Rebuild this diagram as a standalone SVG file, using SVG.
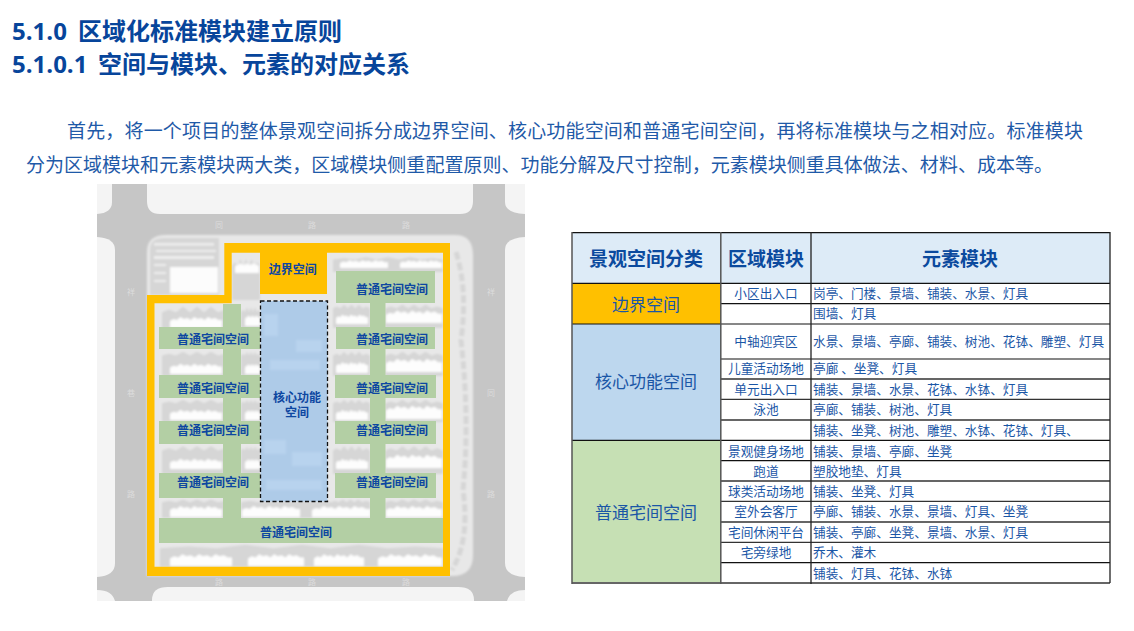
<svg xmlns="http://www.w3.org/2000/svg" xmlns:xlink="http://www.w3.org/1999/xlink" width="1134" height="631" viewBox="0 0 1134 631">
<style>
text{font-family:"Noto Sans CJK SC","Noto Sans",sans-serif;fill:#0b4a9e}
.h1{font-family:"Open Sans","Noto Sans CJK SC",sans-serif;font-size:24px;font-weight:700;fill:#07459b}
.p{font-size:19px;fill:#1f5aa8}
.m{font-size:12px;font-weight:700;text-anchor:middle;fill:#0d47a1}
.th{font-size:19px;font-weight:700;text-anchor:middle}
.cat{font-size:17px;text-anchor:middle;fill:#1a56a6}
.c2{font-size:12.67px;text-anchor:middle;fill:#1a56a6}
.c3{font-size:12.67px;fill:#1a56a6}
.rd{font-size:8px;text-anchor:middle;fill:#dcdcdc}
.bg{fill:#d6d6d6}.wh{fill:#fdfdfd}
.gr{fill:#b3cfa4}
.hl{stroke:#111;stroke-width:1.2;fill:none}
</style>
<defs>
<filter id="b" x="-5%" y="-5%" width="110%" height="110%"><feGaussianBlur stdDeviation="0.8"/></filter>
<filter id="s" x="-5%" y="-5%" width="110%" height="110%"><feGaussianBlur stdDeviation="0.4"/></filter>
<symbol id="w" viewBox="0 0 60 14" preserveAspectRatio="none"><path d="M0 14V7L4 5L8 6L12 3L16 5L20 4L24 6L28 3L32 5L36 4L40 6L44 3L48 5L52 4L56 6L60 6V14Z"/></symbol>
<symbol id="r" viewBox="0 0 60 14" preserveAspectRatio="none"><path d="M0 14V3L6 2L12 3L18 1L24 3L30 1L36 3L42 1L48 3L54 2L60 3V14Z"/></symbol>
</defs>
<rect width="1134" height="631" fill="#fff"/>
<g id="title">
<text class="h1" x="12" y="40">5.1.0<tspan x="78">区域化标准模块建立原则</tspan></text>
<text class="h1" x="12" y="73">5.1.0.1<tspan x="98">空间与模块、元素的对应关系</tspan></text>
</g>
<g id="intro">
<text class="p" x="67" y="138" textLength="1016">首先，将一个项目的整体景观空间拆分成边界空间、核心功能空间和普通宅间空间，再将标准模块与之相对应。标准模块</text>
<text class="p" x="26" y="172" textLength="1027">分为区域模块和元素模块两大类，区域模块侧重配置原则、功能分解及尺寸控制，元素模块侧重具体做法、材料、成本等。</text>
</g>
<g id="site-plan">
<rect x="97" y="184" width="428" height="417" fill="#c6c6c6"/>
<g fill="#f4f4f4">
<path d="M147 184H473V201Q473 214 460 214H160Q147 214 147 201Z"/>
<path d="M97 184H112V202Q112 213 97 214Z"/>
<path d="M505 184H525V214Q505 213 505 202Z"/>
<path d="M97 237Q115 238 115 250V563Q115 576 97 577Z"/>
<path d="M525 237Q505 238 505 250V563Q505 576 525 577Z"/>
<path d="M152 601V600Q152 587 168 587H458Q474 587 474 600V601Z"/>
<path d="M97 590Q112 590 115 601H97Z"/>
<path d="M525 590Q510 590 507 601H525Z"/>
</g>
<g id="site-ground" filter="url(#b)">
<path d="M147 252Q147 235 166 235H455Q473 235 473 255V555Q473 576 452 576H147Z" fill="#e8e8e8"/>
<path d="M456 252Q468 290 461 340Q470 420 463 490Q470 540 452 570" fill="none" stroke="#d6d6d6" stroke-width="5" stroke-dasharray="8 3"/>
<path d="M150 250Q150 238 164 238H219V295H150Z" fill="#d6d6d6"/>
<g fill="#eeeeee"><rect x="154" y="243" width="60" height="2.500"/><rect x="156" y="250" width="60" height="2"/><rect x="154" y="256" width="60" height="3"/><rect x="154" y="264" width="12" height="2"/><rect x="154" y="272" width="12" height="2"/><rect x="154" y="280" width="12" height="2"/></g>
<rect x="170" y="267" width="48" height="26" fill="#fcfcfc"/>
<g class="bg">
<use xlink:href="#r" x="162" y="304" width="70" height="38"/><use xlink:href="#r" x="241" y="304" width="20" height="38"/>
<use xlink:href="#r" x="162" y="350" width="70" height="26"/><use xlink:href="#r" x="241" y="350" width="20" height="26"/>
<use xlink:href="#r" x="162" y="398" width="70" height="24"/><use xlink:href="#r" x="241" y="398" width="20" height="24"/>
<use xlink:href="#r" x="162" y="444" width="70" height="30"/><use xlink:href="#r" x="241" y="444" width="20" height="30"/>
<use xlink:href="#r" x="162" y="498" width="70" height="20"/><use xlink:href="#r" x="241" y="498" width="90" height="20"/>
<use xlink:href="#r" x="333" y="256" width="110" height="16"/><use xlink:href="#r" x="232" y="256" width="28" height="44"/>
<use xlink:href="#r" x="333" y="303" width="37" height="25"/><use xlink:href="#r" x="385" y="303" width="58" height="25"/>
<use xlink:href="#r" x="333" y="350" width="37" height="26"/><use xlink:href="#r" x="385" y="350" width="58" height="26"/>
<use xlink:href="#r" x="333" y="398" width="37" height="24"/><use xlink:href="#r" x="385" y="398" width="58" height="24"/>
<use xlink:href="#r" x="333" y="444" width="37" height="30"/><use xlink:href="#r" x="385" y="444" width="58" height="30"/>
<use xlink:href="#r" x="331" y="498" width="39" height="20"/><use xlink:href="#r" x="385" y="498" width="58" height="20"/>
<use xlink:href="#r" x="160" y="543" width="284" height="24"/>
</g>
<g class="wh">
<use xlink:href="#w" x="170" y="314" width="52" height="14"/><use xlink:href="#w" x="245" y="312" width="15" height="14"/>
<use xlink:href="#w" x="170" y="361" width="52" height="13"/><use xlink:href="#w" x="245" y="361" width="15" height="13"/>
<use xlink:href="#w" x="170" y="407" width="52" height="13"/><use xlink:href="#w" x="245" y="407" width="15" height="13"/>
<use xlink:href="#w" x="170" y="456" width="52" height="13"/><use xlink:href="#w" x="245" y="456" width="15" height="13"/>
<use xlink:href="#w" x="170" y="503" width="52" height="14"/><use xlink:href="#w" x="242" y="503" width="58" height="14"/><use xlink:href="#w" x="312" y="503" width="58" height="14"/><use xlink:href="#w" x="386" y="503" width="56" height="14"/>
<use xlink:href="#w" x="336" y="312" width="32" height="12"/><use xlink:href="#w" x="386" y="307" width="56" height="16"/>
<use xlink:href="#w" x="336" y="359" width="32" height="14"/><use xlink:href="#w" x="386" y="355" width="56" height="17"/>
<use xlink:href="#w" x="336" y="407" width="32" height="13"/><use xlink:href="#w" x="386" y="402" width="56" height="17"/>
<use xlink:href="#w" x="336" y="456" width="32" height="13"/><use xlink:href="#w" x="386" y="451" width="56" height="17"/>
<use xlink:href="#w" x="170" y="551" width="62" height="15"/><use xlink:href="#w" x="248" y="551" width="56" height="15"/><use xlink:href="#w" x="314" y="551" width="50" height="15"/><use xlink:href="#w" x="378" y="551" width="64" height="15"/>
<use xlink:href="#w" x="340" y="258" width="48" height="10"/><use xlink:href="#w" x="400" y="258" width="42" height="10"/><use xlink:href="#w" x="235" y="260" width="24" height="13"/>
</g>
</g>
<g id="green-zones" class="gr" filter="url(#s)">
<rect x="336" y="271" width="99" height="32"/>
<rect x="370" y="303" width="15.500" height="215"/>
<rect x="336" y="327" width="99" height="22"/>
<rect x="335" y="375" width="101" height="23"/>
<rect x="335" y="421" width="101" height="23"/>
<rect x="335" y="473" width="101" height="25"/>
<rect x="223" y="304" width="18" height="214"/>
<rect x="159" y="327" width="101" height="22"/>
<rect x="159" y="375" width="101" height="23"/>
<rect x="159" y="421" width="101" height="23"/>
<rect x="159" y="473" width="101" height="25"/>
<rect x="159" y="518" width="284" height="25"/>
</g>
<rect id="core-zone" x="260.500" y="301" width="67" height="200.500" fill="#aecbe8"/>
<g id="core-texture" fill="#b8d3ee" filter="url(#b)">
<rect x="264" y="314" width="14" height="22"/><rect x="296" y="340" width="26" height="12"/><rect x="270" y="360" width="50" height="10"/><rect x="264" y="440" width="22" height="14"/><rect x="292" y="452" width="30" height="14"/><rect x="266" y="480" width="56" height="10"/>
</g>
<rect x="260.500" y="301" width="67" height="200.500" fill="none" stroke="#111" stroke-width="1.300" stroke-dasharray="4 2.500"/>
<path id="boundary" fill="#ffc000" fill-rule="evenodd" d="M147 295H224.300V243H450V576H147ZM154.500 303.300V566.700H443V252.700H231.700V303.300Z"/>
<rect id="boundary-zone" x="260" y="243" width="67" height="51" fill="#ffc000"/>
<g id="road-labels">
<text class="rd" x="219" y="228">同</text><text class="rd" x="312" y="228">路</text><text class="rd" x="406" y="228">路</text>
<text class="rd" x="131" y="295">祥</text><text class="rd" x="131" y="396">巷</text><text class="rd" x="131" y="497">路</text>
<text class="rd" x="491" y="295">祥</text><text class="rd" x="491" y="396">同</text><text class="rd" x="491" y="497">路</text>
<text class="rd" x="219" y="585">路</text><text class="rd" x="312" y="585">路</text><text class="rd" x="406" y="585">路</text>
</g>
<g id="plan-labels">
<text class="m" x="292.700" y="273.500">边界空间</text>
<text class="m" x="297" y="401.500">核心功能</text>
<text class="m" x="297" y="416.500">空间</text>
<text class="m" x="392" y="293.500">普通宅间空间</text>
<text class="m" x="213" y="343.500">普通宅间空间</text><text class="m" x="392" y="343.500">普通宅间空间</text>
<text class="m" x="213" y="392.500">普通宅间空间</text><text class="m" x="392" y="392.500">普通宅间空间</text>
<text class="m" x="213" y="434.500">普通宅间空间</text><text class="m" x="392" y="434.500">普通宅间空间</text>
<text class="m" x="213" y="486.500">普通宅间空间</text><text class="m" x="392" y="486.500">普通宅间空间</text>
<text class="m" x="296" y="536.500">普通宅间空间</text>
</g>
</g>
<g id="table">
<rect x="572" y="233" width="538" height="50" fill="#ddebf7"/>
<rect x="572" y="283.500" width="149" height="40.500" fill="#ffc000"/>
<rect x="572" y="324" width="149" height="116" fill="#bdd7ee"/>
<rect x="572" y="440" width="149" height="143" fill="#c6e0b4"/>
<g id="table-lines">
<path class="hl" d="M572 232.700H1110M572 283.300H1110M721 303.700H1110M572 324H1110M721 359H1110M572 440.300H1110M721 460.700H1110M721 562.700H1110"/>
<path d="M721 379H1110M721 399.300H1110M721 481H1110M721 501.300H1110M721 542.300H1110" fill="none" stroke="#333" stroke-width="1.300"/>
<path d="M721 420H1110M721 522H1110" fill="none" stroke="#666" stroke-width="1.800"/>
<path d="M572 583H1110" fill="none" stroke="#666" stroke-width="1.800"/>
<path d="M572 232V584M720.800 232V584" fill="none" stroke="#555" stroke-width="1.500"/>
<path d="M811 232V584M1110 232V583" fill="none" stroke="#222" stroke-width="1.300"/>
</g>
<g id="table-header">
<text class="th" x="646" y="266">景观空间分类</text>
<text class="th" x="766" y="266">区域模块</text>
<text class="th" x="960" y="266">元素模块</text>
</g>
<g id="table-cats">
<text class="cat" x="646" y="310.500">边界空间</text>
<text class="cat" x="646" y="388">核心功能空间</text>
<text class="cat" x="646" y="518.500">普通宅间空间</text>
</g>
<g id="table-regions">
<text class="c2" x="766" y="298">小区出入口</text>
<text class="c2" x="766" y="346">中轴迎宾区</text>
<text class="c2" x="766" y="373">儿童活动场地</text>
<text class="c2" x="766" y="394">单元出入口</text>
<text class="c2" x="766" y="414">泳池</text>
<text class="c2" x="766" y="456">景观健身场地</text>
<text class="c2" x="766" y="476">跑道</text>
<text class="c2" x="766" y="496">球类活动场地</text>
<text class="c2" x="766" y="516">室外会客厅</text>
<text class="c2" x="766" y="537">宅间休闲平台</text>
<text class="c2" x="766" y="557">宅旁绿地</text>
</g>
<g id="table-elements">
<text class="c3" x="813" y="298">岗亭、门楼、景墙、铺装、水景、灯具</text>
<text class="c3" x="813" y="318">围墙、灯具</text>
<text class="c3" x="813" y="346">水景、景墙、亭廊、铺装、树池、花钵、雕塑、灯具</text>
<text class="c3" x="813" y="373">亭廊 、坐凳、灯具</text>
<text class="c3" x="813" y="394">铺装、景墙、水景、花钵、水钵、灯具</text>
<text class="c3" x="813" y="414">亭廊、铺装、树池、灯具</text>
<text class="c3" x="813" y="435">铺装、坐凳、树池、雕塑、水钵、花钵、灯具、</text>
<text class="c3" x="813" y="456">铺装、景墙、亭廊、坐凳</text>
<text class="c3" x="813" y="476">塑胶地垫、灯具</text>
<text class="c3" x="813" y="496">铺装、坐凳、灯具</text>
<text class="c3" x="813" y="516">亭廊、铺装、水景、景墙、灯具、坐凳</text>
<text class="c3" x="813" y="537">铺装、亭廊、坐凳、景墙、水景、灯具</text>
<text class="c3" x="813" y="557">乔木、灌木</text>
<text class="c3" x="813" y="578">铺装、灯具、花钵、水钵</text>
</g>
</g>
</svg>
